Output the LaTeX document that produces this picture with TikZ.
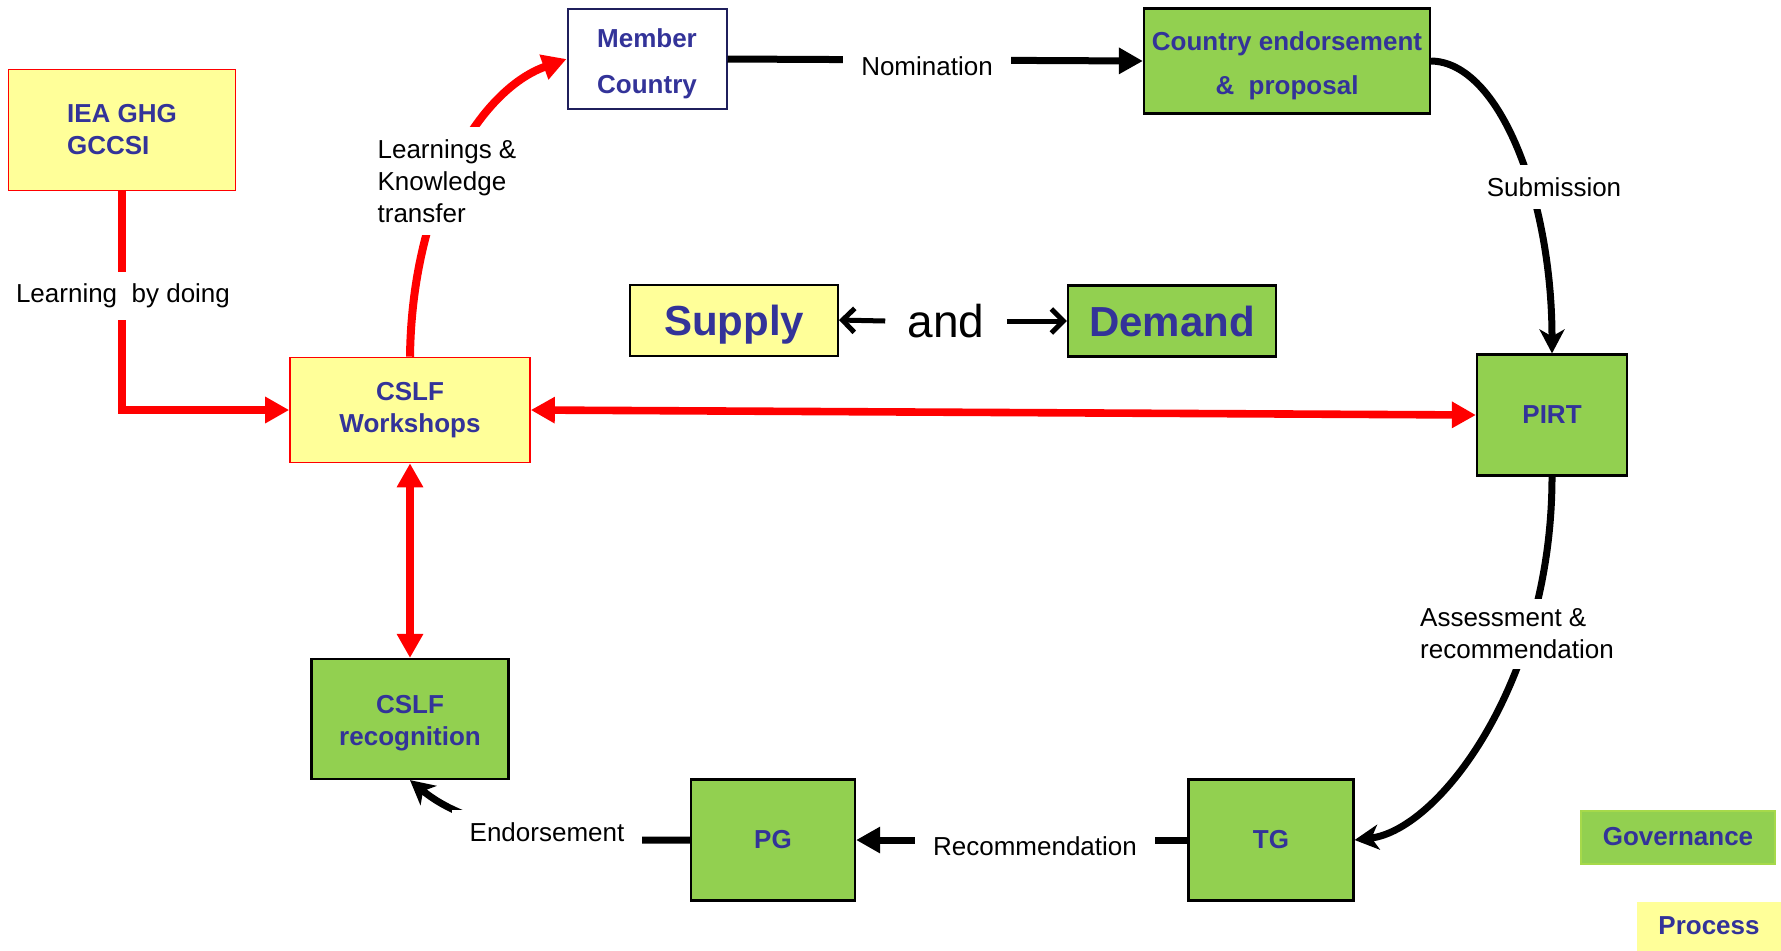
\documentclass[tikz,border=0pt]{standalone}
\usepackage{fontspec}
\setmainfont{Liberation Sans}
\usetikzlibrary{arrows.meta}
\definecolor{cyel}{HTML}{FFFF99}
\definecolor{cgrn}{HTML}{92D050}
\definecolor{ctxt}{HTML}{333399}
\definecolor{cred}{HTML}{FF0000}
\definecolor{cnavy}{HTML}{1F1F5C}
\definecolor{cgb}{HTML}{A6D94A}
\begin{document}
\begin{tikzpicture}[x=0.5pt,y=-0.5pt,
  box/.style={rectangle, inner sep=0pt, align=center, font=\fontsize{13}{16}\selectfont\bfseries, text=ctxt},
  gbox/.style={box, fill=cgrn, draw=black, line width=1.1pt},
  ybox/.style={box, fill=cyel, draw=cred, line width=0.8pt},
  lab/.style={fill=white, inner xsep=9pt, inner ysep=6pt, font=\fontsize{13}{16}\selectfont, align=left},
  blk/.style={line width=3.5pt, draw=black, -{Triangle[length=12pt,width=12.5pt]}},
  blkc/.style={line width=3.5pt, draw=black, -{Stealth[length=12pt,width=12.5pt,inset=3.5pt]}},
  redl/.style={line width=4pt, draw=cred, -{Triangle[length=12pt,width=12.5pt]}},
  redd/.style={line width=3.8pt, draw=cred, {Triangle[length=12pt,width=12.5pt]}-{Triangle[length=12pt,width=12.5pt]}},
  barb/.style={line width=2.5pt, draw=black, -{Straight Barb[length=6pt,width=12pt]}},
  big/.style={font=\fontsize{21}{24}\selectfont\bfseries, text height=19pt, text depth=4pt}
]
\useasboundingbox (0,0) rectangle (1781,950);

% nodes
\node[ybox, minimum width=113.5pt, minimum height=60.5pt, align=left] (iea) at (122,130) {IEA GHG\\GCCSI};
\node[box, fill=white, draw=cnavy, line width=1pt, minimum width=79.5pt, minimum height=50pt,
      font=\fontsize{13}{23}\selectfont\bfseries] (mc) at (647,59) {\rule{0pt}{14pt}Member\\Country};
\node[gbox, minimum width=143pt, minimum height=52.5pt,
      font=\fontsize{13}{22}\selectfont\bfseries] (ce) at (1287,61) {\rule{0pt}{14pt}Country endorsement\\\&\ \ proposal};
\node[box, big, fill=cyel, draw=black, line width=1pt, minimum width=104pt, minimum height=35.5pt] (sup) at (734,320) {Supply};
\node[font=\fontsize{23}{26}\selectfont, inner xsep=11pt] (and) at (946,321) {and};
\node[gbox, big, minimum width=104pt, minimum height=35.5pt] (dem) at (1172,321) {Demand};
\node[ybox, minimum width=120pt, minimum height=52.5pt] (ws) at (410,410) {CSLF\\Workshops};
\node[gbox, minimum width=75pt, minimum height=60.5pt] (pirt) at (1552,415) {PIRT};
\node[gbox, minimum width=98.5pt, minimum height=60pt] (rec) at (410,719) {\rule{0pt}{13pt}CSLF\\recognition};
\node[gbox, minimum width=82pt, minimum height=60.5pt] (pg) at (773,840) {PG};
\node[gbox, minimum width=82.5pt, minimum height=60.5pt] (tg) at (1271,840) {TG};
\node[box, fill=cgrn, draw=cgb, line width=1pt, minimum width=97pt, minimum height=26.5pt] (gov) at (1678,837) {Governance};
\node[box, fill=cyel, minimum width=72pt, minimum height=24.5pt] (proc) at (1709,926) {Process};

% connectors
\draw[redl] (iea.south) |- (ws.west);
\draw[redl] (ws.north) .. controls (412,200) and (480,90) .. (mc.west);
\draw[blk] (mc.east) -- (ce.west);
\draw[blkc] (ce.east) .. controls (1500,62) and (1552,200) .. (pirt.north);
\draw[redd] (ws.east) -- (pirt.west);
\draw[redd] (ws.south) -- (rec.north);
\draw[blkc] (pirt.south) .. controls (1552,680) and (1440,830) .. (tg.east);
\draw[blk] (tg.west) -- (pg.east);
\draw[blkc] (pg.west) .. controls (560,842) and (470,830) .. (rec.south);
\draw[barb] (and.west) -- (sup.east);
\draw[barb] (and.east) -- (dem.west);

% labels
\node[lab] (l1) at (123,296) {Learning\ \ by doing};
\node[lab] (l2) at (447,181) {Learnings \&\\Knowledge\\transfer};
\node[lab] (l3) at (927,66) {Nomination};
\node[lab] (l4) at (1554,187) {Submission};
\node[lab, inner ysep=5pt] (l5) at (1517,634) {Assessment \&\\recommendation};
\node[lab] (l6) at (1035,846) {Recommendation};
\node[lab] (l7) at (547,832) {Endorsement};
\end{tikzpicture}
\end{document}
